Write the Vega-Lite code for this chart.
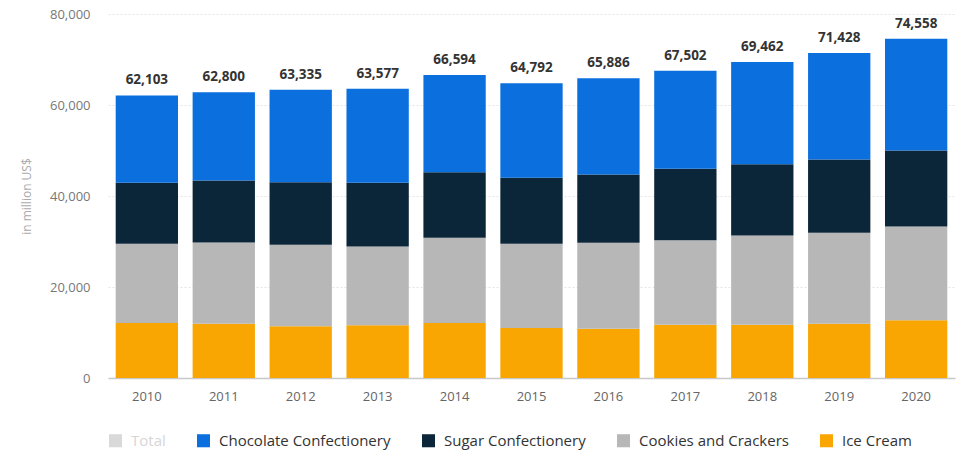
{
  "$schema": "https://vega.github.io/schema/vega-lite/v6.json",
  "width": 959,
  "height": 452,
  "autosize": {"type": "fit", "contains": "padding"},
  "padding": {"left": 20, "top": 8, "right": 4, "bottom": 3},
  "background": "white",
  "config": {
    "font": "Open Sans",
    "view": {"stroke": null}
  },
  "datasets": {
    "segments": [
      {"year": "2010", "category": "Ice Cream", "value": 12100, "order": 1},
      {"year": "2010", "category": "Cookies and Crackers", "value": 17400, "order": 2},
      {"year": "2010", "category": "Sugar Confectionery", "value": 13400, "order": 3},
      {"year": "2010", "category": "Chocolate Confectionery", "value": 19203, "order": 4},
      {"year": "2011", "category": "Ice Cream", "value": 11900, "order": 1},
      {"year": "2011", "category": "Cookies and Crackers", "value": 17900, "order": 2},
      {"year": "2011", "category": "Sugar Confectionery", "value": 13600, "order": 3},
      {"year": "2011", "category": "Chocolate Confectionery", "value": 19400, "order": 4},
      {"year": "2012", "category": "Ice Cream", "value": 11400, "order": 1},
      {"year": "2012", "category": "Cookies and Crackers", "value": 17900, "order": 2},
      {"year": "2012", "category": "Sugar Confectionery", "value": 13700, "order": 3},
      {"year": "2012", "category": "Chocolate Confectionery", "value": 20335, "order": 4},
      {"year": "2013", "category": "Ice Cream", "value": 11600, "order": 1},
      {"year": "2013", "category": "Cookies and Crackers", "value": 17300, "order": 2},
      {"year": "2013", "category": "Sugar Confectionery", "value": 14000, "order": 3},
      {"year": "2013", "category": "Chocolate Confectionery", "value": 20677, "order": 4},
      {"year": "2014", "category": "Ice Cream", "value": 12100, "order": 1},
      {"year": "2014", "category": "Cookies and Crackers", "value": 18700, "order": 2},
      {"year": "2014", "category": "Sugar Confectionery", "value": 14400, "order": 3},
      {"year": "2014", "category": "Chocolate Confectionery", "value": 21394, "order": 4},
      {"year": "2015", "category": "Ice Cream", "value": 11000, "order": 1},
      {"year": "2015", "category": "Cookies and Crackers", "value": 18500, "order": 2},
      {"year": "2015", "category": "Sugar Confectionery", "value": 14500, "order": 3},
      {"year": "2015", "category": "Chocolate Confectionery", "value": 20792, "order": 4},
      {"year": "2016", "category": "Ice Cream", "value": 10800, "order": 1},
      {"year": "2016", "category": "Cookies and Crackers", "value": 18900, "order": 2},
      {"year": "2016", "category": "Sugar Confectionery", "value": 15000, "order": 3},
      {"year": "2016", "category": "Chocolate Confectionery", "value": 21186, "order": 4},
      {"year": "2017", "category": "Ice Cream", "value": 11700, "order": 1},
      {"year": "2017", "category": "Cookies and Crackers", "value": 18600, "order": 2},
      {"year": "2017", "category": "Sugar Confectionery", "value": 15700, "order": 3},
      {"year": "2017", "category": "Chocolate Confectionery", "value": 21502, "order": 4},
      {"year": "2018", "category": "Ice Cream", "value": 11700, "order": 1},
      {"year": "2018", "category": "Cookies and Crackers", "value": 19600, "order": 2},
      {"year": "2018", "category": "Sugar Confectionery", "value": 15700, "order": 3},
      {"year": "2018", "category": "Chocolate Confectionery", "value": 22462, "order": 4},
      {"year": "2019", "category": "Ice Cream", "value": 11900, "order": 1},
      {"year": "2019", "category": "Cookies and Crackers", "value": 20000, "order": 2},
      {"year": "2019", "category": "Sugar Confectionery", "value": 16100, "order": 3},
      {"year": "2019", "category": "Chocolate Confectionery", "value": 23428, "order": 4},
      {"year": "2020", "category": "Ice Cream", "value": 12700, "order": 1},
      {"year": "2020", "category": "Cookies and Crackers", "value": 20600, "order": 2},
      {"year": "2020", "category": "Sugar Confectionery", "value": 16700, "order": 3},
      {"year": "2020", "category": "Chocolate Confectionery", "value": 24558, "order": 4}
    ],
    "totals": [
      {"year": "2010", "total": 62103},
      {"year": "2011", "total": 62800},
      {"year": "2012", "total": 63335},
      {"year": "2013", "total": 63577},
      {"year": "2014", "total": 66594},
      {"year": "2015", "total": 64792},
      {"year": "2016", "total": 65886},
      {"year": "2017", "total": 67502},
      {"year": "2018", "total": 69462},
      {"year": "2019", "total": 71428},
      {"year": "2020", "total": 74558}
    ]
  },
  "encoding": {
    "x": {
      "field": "year",
      "type": "nominal",
      "scale": {"paddingInner": 0.19, "paddingOuter": 0.1},
      "axis": {
        "title": null,
        "labelAngle": 0,
        "labelFontSize": 13,
        "labelColor": "#666666",
        "labelPadding": 12,
        "ticks": false,
        "domainColor": "#c8c8c8",
        "domainWidth": 1.5
      }
    }
  },
  "layer": [
    {
      "data": {"name": "segments"},
      "mark": {"type": "bar"},
      "encoding": {
        "y": {
          "field": "value",
          "type": "quantitative",
          "stack": "zero",
          "scale": {"domain": [0, 80000]},
          "axis": {
            "title": "in million US$",
            "titleFontSize": 12,
            "titleFontWeight": "normal",
            "titleColor": "#aaaaaa",
            "titlePadding": 16,
            "values": [0, 20000, 40000, 60000, 80000],
            "format": ",d",
            "labelFontSize": 13,
            "labelColor": "#777777",
            "labelPadding": 18,
            "ticks": false,
            "domain": false,
            "gridColor": "#e4e4e4",
            "gridDash": [2, 2],
            "gridWidth": 1
          }
        },
        "color": {
          "field": "category",
          "type": "nominal",
          "scale": {
            "domain": ["Total", "Chocolate Confectionery", "Sugar Confectionery", "Cookies and Crackers", "Ice Cream"],
            "range": ["#d9d9d9", "#0b6fde", "#0b2539", "#b7b7b7", "#f9a602"]
          },
          "legend": {
            "title": null,
            "orient": "bottom",
            "direction": "horizontal",
            "symbolType": "square",
            "symbolSize": 170,
            "labelFontSize": 15,
            "labelLimit": 0,
            "labelColor": "#333333",
            "columnPadding": 30,
            "labelOffset": 8,
            "offset": 30,
            "encode": {
              "labels": {"update": {"fill": {"signal": "datum.label === 'Total' ? '#d6d6d6' : '#333333'"}}}
            }
          }
        },
        "order": {"field": "order", "type": "quantitative"}
      }
    },
    {
      "data": {"name": "totals"},
      "mark": {"type": "text", "dy": -15, "fontSize": 13.5, "fontWeight": "bold", "color": "#333333"},
      "encoding": {
        "y": {"field": "total", "type": "quantitative"},
        "text": {"field": "total", "type": "quantitative", "format": ",d"}
      }
    }
  ]
}
